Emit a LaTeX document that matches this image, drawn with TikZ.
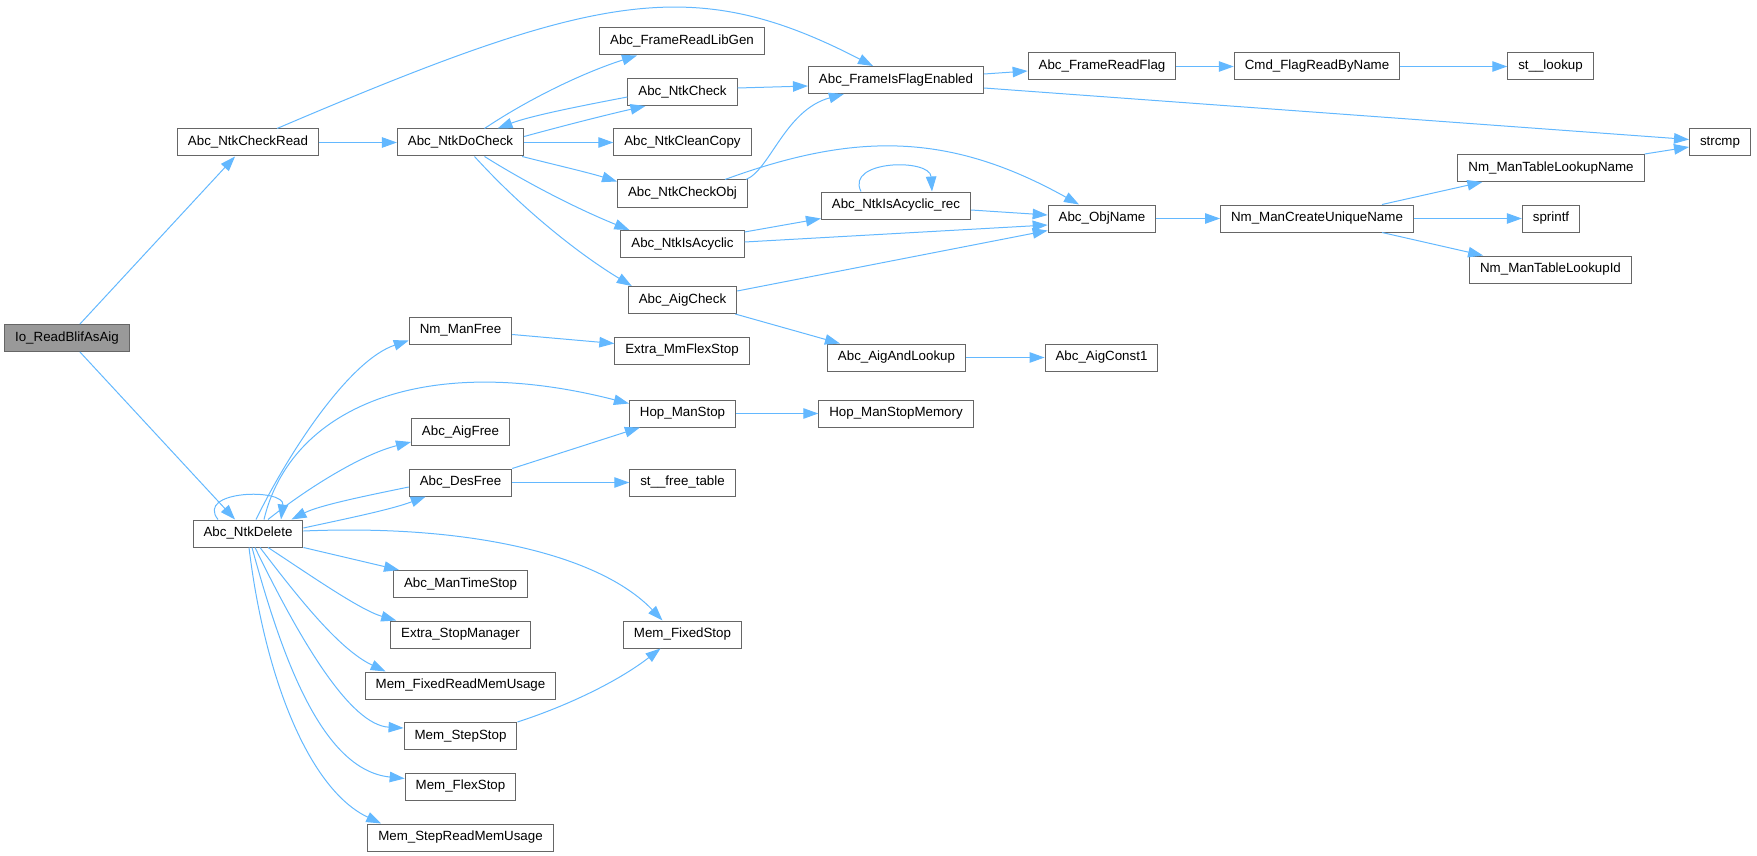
\documentclass[tikz,border=0pt]{standalone}
\usepackage{fontspec}
\setmainfont{Liberation Sans}
\usetikzlibrary{arrows.meta,calc}
\definecolor{edgeblue}{HTML}{63B8FF}
\definecolor{boxgray}{HTML}{666666}
\definecolor{rootgray}{HTML}{999999}
\begin{document}
\begin{tikzpicture}[x=1pt,y=-1pt,
  fn/.style={draw=boxgray, fill=white, line width=1pt, rectangle, minimum height=27pt,
    inner xsep=10.5pt, inner ysep=0pt, text height=9.8pt, text depth=2.9pt,
    font=\fontsize{13.33}{16}\selectfont},
  root/.style={fn, fill=rootgray},
  call/.style={draw=edgeblue, line width=1pt, -{Triangle[length=15pt,width=10.5pt]}}
]
\useasboundingbox (0,0) rectangle (1757,856);

% nodes
\node[root] (io)    at (67,338)    {Io\_ReadBlifAsAig};
\node[fn] (ncr)     at (248,142.5) {Abc\_NtkCheckRead};
\node[fn] (ndc)     at (460.5,142.5) {Abc\_NtkDoCheck};
\node[fn] (frlg)    at (682,41.5)  {Abc\_FrameReadLibGen};
\node[fn] (nchk)    at (682.5,92)  {Abc\_NtkCheck};
\node[fn] (ncc)     at (682.5,142.5) {Abc\_NtkCleanCopy};
\node[fn] (nco)     at (682.5,193.5) {Abc\_NtkCheckObj};
\node[fn] (nia)     at (682.5,244) {Abc\_NtkIsAcyclic};
\node[fn] (aigc)    at (682.5,300) {Abc\_AigCheck};
\node[fn] (fife)    at (896,80)    {Abc\_FrameIsFlagEnabled};
\node[fn] (frf)     at (1102,66.5) {Abc\_FrameReadFlag};
\node[fn] (cmd)     at (1317,66.5) {Cmd\_FlagReadByName};
\node[fn] (stl)     at (1550.5,66.5) {st\_\_lookup};
\node[fn] (strcmp)  at (1720,142.5) {strcmp};
\node[fn] (niar)    at (896,205.5) {Abc\_NtkIsAcyclic\_rec};
\node[fn] (objn)    at (1102,218.5) {Abc\_ObjName};
\node[fn] (nmcun)   at (1317,218.5) {Nm\_ManCreateUniqueName};
\node[fn] (nmtln)   at (1551,168)  {Nm\_ManTableLookupName};
\node[fn] (spf)     at (1551,218.5) {sprintf};
\node[fn] (nmtli)   at (1550.5,269.5) {Nm\_ManTableLookupId};
\node[fn] (aal)     at (896.5,357.5) {Abc\_AigAndLookup};
\node[fn] (ac1)     at (1101.5,357.5) {Abc\_AigConst1};
\node[fn] (hms)     at (682.5,413.5) {Hop\_ManStop};
\node[fn] (hmsm)    at (896,413.5) {Hop\_ManStopMemory};
\node[fn] (nmf)     at (460.5,330.5) {Nm\_ManFree};
\node[fn] (emfs)    at (682,350.5) {Extra\_MmFlexStop};
\node[fn] (aigf)    at (460.5,432) {Abc\_AigFree};
\node[fn] (desf)    at (460.5,482.5) {Abc\_DesFree};
\node[fn] (stft)    at (682.5,482.5) {st\_\_free\_table};
\node[fn] (ndel)    at (248,533.5) {Abc\_NtkDelete};
\node[fn] (amts)    at (460.5,584)  {Abc\_ManTimeStop};
\node[fn] (esm)     at (460.5,634.5) {Extra\_StopManager};
\node[fn] (mfrmu)   at (460.5,685.5) {Mem\_FixedReadMemUsage};
\node[fn] (mss)     at (460.5,736)  {Mem\_StepStop};
\node[fn] (mfls)    at (460.5,786.5) {Mem\_FlexStop};
\node[fn] (msrmu)   at (460.5,837.5) {Mem\_StepReadMemUsage};
\node[fn] (mfs)     at (682.5,634.5) {Mem\_FixedStop};

% edges: top part
\draw[call] (io) -- (ncr);
\draw[call] (io) -- (ndel);
\draw[call] (ncr) -- (ndc);
\draw[call] ($(ncr.north)+(29,0)$) .. controls (597,-8) and (693,-27) .. ($(fife.north)+(-23,0)$);
\draw[call] ($(ndc.north)+(24,0)$) .. controls (530,98) and (585,72) .. ($(frlg.south)+(-45,0)$);
\draw[call] ($(ndc.east)+(0,-6)$) .. controls (570,124) and (610,114) .. ($(nchk.south)+(-37,0)$);
\draw[call] ($(nchk.west)+(0,5)$) .. controls (580,106) and (530,116) .. ($(ndc.north)+(37,0)$);
\draw[call] (ndc) -- (ncc);
\draw[call] ($(ndc.south east)+(-2,0)$) .. controls (560,166) and (590,173) .. ($(nco.north west)+(0,2)$);
\draw[call] ($(ndc.south)+(24,0)$) .. controls (530,185) and (580,210) .. ($(nia.north west)+(9,0)$);
\draw[call] ($(ndc.south)+(14,0)$) .. controls (525,212) and (582,256) .. ($(aigc.north west)+(4,0)$);
\draw[call] ($(nchk.east)+(0,-4)$) -- ($(fife.west)+(0,6)$);
\draw[call] ($(nco.north east)+(-2,0)$) .. controls (770,170) and (785,110) .. ($(fife.south west)+(36,0)$);
\draw[call] ($(nco.north east)+(-23,0)$) .. controls (855,132) and (949,132) .. ($(objn.north)+(-23,0)$);
\draw[call] ($(fife.east)+(0,-6)$) -- ($(frf.west)+(0,4.5)$);
\draw[call] ($(fife.east)+(0,8)$) -- ($(strcmp.west)+(0,-3)$);
\draw[call] (frf) -- (cmd);
\draw[call] (cmd) -- (stl);
\draw[call] ($(nia.east)+(0,-12)$) -- ($(niar.south west)+(0,-1)$);
\draw[call] ($(nia.east)+(0,-2)$) -- ($(objn.west)+(0,6.5)$);
\draw[call] ($(niar.north)+(-35,0)$) .. controls (845,160) and (930,158) .. ($(niar.north)+(36,0)$);
\draw[call] ($(niar.east)+(0,4.5)$) -- ($(objn.west)+(0,-3.5)$);
\draw[call] ($(aigc.east)+(0,-9)$) -- ($(objn.west)+(0,12)$);
\draw[call] ($(aigc.south east)+(-2,0)$) -- ($(aal.north west)+(13,0)$);
\draw[call] (aal) -- (ac1);
\draw[call] (objn) -- (nmcun);
\draw[call] ($(nmcun.north)+(65,0)$) -- ($(nmtln.south west)+(25,0)$);
\draw[call] (nmcun) -- (spf);
\draw[call] ($(nmcun.south)+(65,0)$) -- ($(nmtli.north west)+(14,0)$);
\draw[call] (nmtln.north east) -- ($(strcmp.west)+(0,4.5)$);

% edges: bottom part
\draw[call] ($(ndel.north)+(-30,0)$) .. controls (195,490) and (285,488) .. ($(ndel.north)+(33,0)$);
\draw[call] ($(ndel.north)+(8,0)$) .. controls (290,450) and (350,360) .. ($(nmf.west)+(0,10)$);
\draw[call] ($(ndel.north)+(16,0)$) .. controls (290,410) and (420,350) .. ($(hms.west)+(0,-10)$);
\draw[call] ($(ndel.north)+(20,0)$) .. controls (305,490) and (360,455) .. ($(aigf.west)+(0,10)$);
\draw[call] ($(ndel.east)+(0,-5.5)$) .. controls (340,520) and (390,510) .. ($(desf.south west)+(17,0)$);
\draw[call] ($(desf.west)+(0,4.5)$) .. controls (370,495) and (320,505) .. ($(ndel.north east)+(-12,0)$);
\draw[call] (desf.north east) -- ($(hms.south west)+(11,0)$);
\draw[call] (desf) -- (stft);
\draw[call] ($(ndel.east)+(0,-2.5)$) .. controls (470,524) and (600,555) .. ($(mfs.north)+(-20,0)$);
\draw[call] (ndel.south east) -- ($(amts.north west)+(6,0)$);
\draw[call] ($(ndel.south)+(20,0)$) .. controls (310,575) and (360,610) .. ($(esm.north west)+(6,0)$);
\draw[call] ($(ndel.south)+(12,0)$) .. controls (300,600) and (340,650) .. ($(mfrmu.north west)+(21,0)$);
\draw[call] ($(ndel.south)+(7,0)$) .. controls (300,640) and (350,725) .. ($(mss.west)+(0,-8)$);
\draw[call] ($(ndel.south)+(4,0)$) .. controls (280,650) and (320,770) .. ($(mfls.west)+(0,-8)$);
\draw[call] ($(ndel.south)+(1,0)$) .. controls (265,680) and (310,790) .. ($(msrmu.north west)+(14,0)$);
\draw[call] ($(nmf.east)+(0,4)$) -- ($(emfs.west)+(0,-7)$);
\draw[call] (hms) -- (hmsm);
\draw[call] (mss.north east) .. controls (570,705) and (620,680) .. ($(mfs.south)+(-22,0)$);
\end{tikzpicture}
\end{document}
